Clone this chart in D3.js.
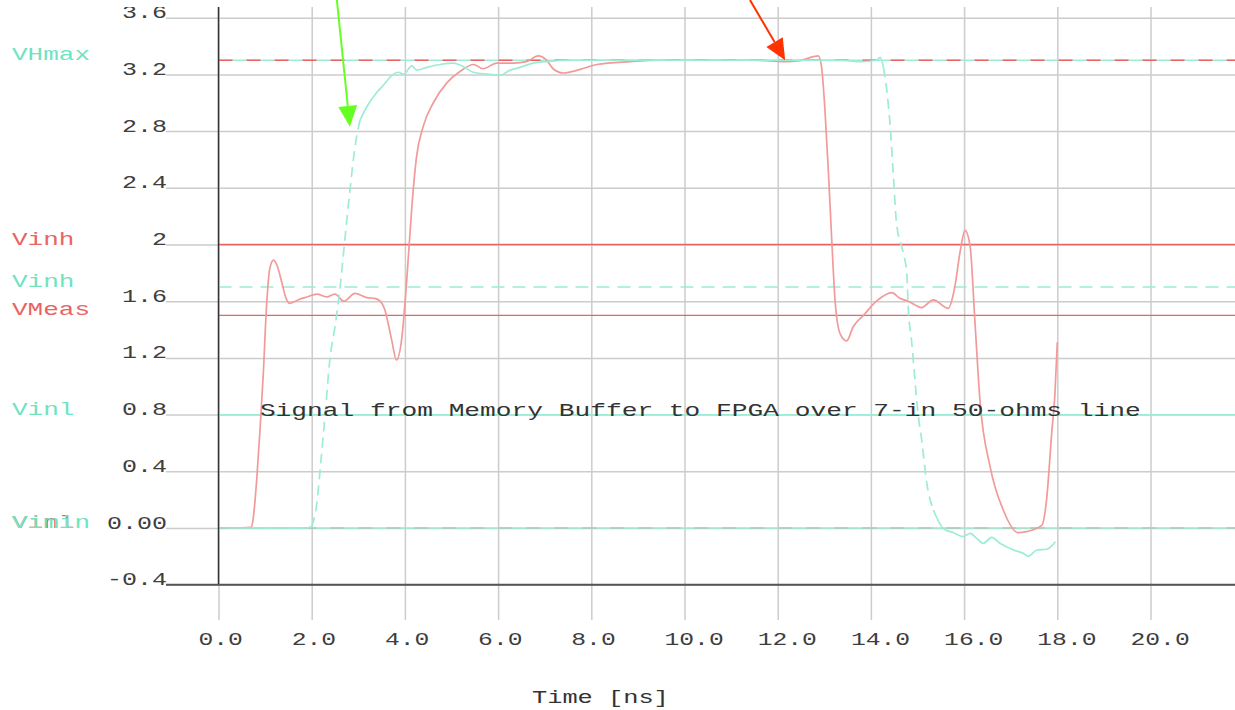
<!DOCTYPE html>
<html>
  <head>
    <meta charset="utf-8">
    <title>Signal from Memory Buffer to FPGA</title>
    <script src="https://cdn.jsdelivr.net/npm/d3@7"></script>
    <style>
    body { margin: 0; background: #fff; }
    text { font-family: "Liberation Mono", monospace; font-size: 19px; }
    .grid line { stroke: #cccccc; stroke-width: 1.5; }
    .grid text { fill: #3e3e3e; }
    </style>
  </head>
  <body>
    <svg width="1235" height="710"></svg>
    <script>
      // time axis [ns]
      var xTicks = [0, 2, 4, 6, 8, 10, 12, 14, 16, 18, 20];
      var xTickLabels = ["0.0", "2.0", "4.0", "6.0", "8.0", "10.0", "12.0", "14.0", "16.0", "18.0", "20.0"];
      // voltage axis [V]
      var yTicks = [3.6, 3.2, 2.8, 2.4, 2, 1.6, 1.2, 0.8, 0.4, 0, -0.4];
      var yTickLabels = ["3.6", "3.2", "2.8", "2.4", "2", "1.6", "1.2", "0.8", "0.4", "0.00", "-0.4"];

      // threshold lines
      var refNames  = ["VHmax", "", "Vinh", "Vinh", "VMeas", "Vinl", "Vinl", "Vimin"];
      var refSeries = ["cyan", "red", "red", "cyan", "red", "cyan", "red", "cyan"];
      var refValues = [3.3, 3.3, 2.0, 1.7, 1.5, 0.8, 0, 0];

      // red waveform
      var redT = [0.15, 0.7, 0.74, 0.82, 0.89, 0.96, 1.03, 1.1, 1.18, 1.27, 1.36, 1.45, 1.53, 1.65, 1.75, 1.9,
                  2.11, 2.32, 2.5, 2.69, 2.93, 3.18, 3.35, 3.47, 3.57, 3.65, 3.72, 3.82, 3.93, 4.04, 4.15, 4.25,
                  4.39, 4.61, 4.9, 5.18, 5.47, 5.68, 5.97, 6.33, 6.61, 6.86, 7.04, 7.18, 7.4, 7.76, 8.12, 8.83,
                  9.5, 10.5, 11.5, 12.15, 12.48, 12.76, 12.87, 12.94, 13.01, 13.09, 13.16, 13.23, 13.34, 13.48,
                  13.62, 13.84, 14.12, 14.45, 14.62, 14.8, 15.09, 15.34, 15.66, 15.8, 15.91, 16.02, 16.13, 16.23,
                  16.34, 16.56, 16.84, 17.16, 17.34, 17.67, 17.77, 17.88, 17.95, 18.0];
      var redV = [0, 0.005, 0.056, 0.34, 0.69, 1.08, 1.56, 1.83, 1.89, 1.84, 1.73, 1.62, 1.585, 1.6, 1.615, 1.63,
                  1.65, 1.63, 1.65, 1.6, 1.655, 1.625, 1.62, 1.6, 1.54, 1.43, 1.32, 1.185, 1.33, 1.75, 2.27, 2.62,
                  2.83, 3.0, 3.14, 3.22, 3.27, 3.24, 3.28, 3.28, 3.29, 3.33, 3.3, 3.24, 3.21, 3.235, 3.27, 3.29,
                  3.3, 3.3, 3.3, 3.29, 3.297, 3.325, 3.33, 3.255, 2.97, 2.5, 2.03, 1.61, 1.37, 1.32,
                  1.42, 1.5, 1.6, 1.66, 1.62, 1.6, 1.555, 1.61, 1.55, 1.7, 1.94, 2.1, 1.985, 1.47,
                  0.9, 0.43, 0.127, -0.033, -0.026, 0.02, 0.2, 0.67, 0.95, 1.31];

      // cyan waveform
      var cyanT = [0.15, 1.9, 2.0, 2.1, 2.2, 2.3, 2.39, 2.5, 2.61, 2.71, 2.82, 2.93, 3.04, 3.18, 3.39, 3.54,
                   3.75, 3.86, 3.97, 4.15, 4.25, 4.47, 4.75, 5.04, 5.25, 5.47, 5.83, 6.04, 6.26, 6.47, 6.75, 7.04,
                   7.6, 9, 11, 13.0, 13.48, 13.8, 14.12, 14.2, 14.27, 14.34, 14.41, 14.48, 14.55, 14.66, 14.73,
                   14.77, 14.8, 14.87, 15.02, 15.09, 15.2, 15.34, 15.55, 15.77, 15.98, 16.13, 16.27, 16.41, 16.59,
                   16.77, 17.06, 17.27, 17.38, 17.56, 17.77, 17.96];
      var cyanV = [0, 0, 0.01, 0.15, 0.48, 0.85, 1.19, 1.42, 1.7, 2.03, 2.38, 2.69, 2.88, 2.97, 3.07, 3.125,
                   3.2, 3.215, 3.2, 3.26, 3.23, 3.25, 3.27, 3.28, 3.255, 3.215, 3.2, 3.195, 3.23, 3.25, 3.28, 3.29,
                   3.3, 3.3, 3.3, 3.3, 3.297, 3.29, 3.3, 3.32, 3.25, 3.09, 2.85, 2.5, 2.15, 1.985, 1.89,
                   1.8, 1.56, 1.33, 0.785, 0.62, 0.315, 0.127, -0.002, -0.033, -0.061, -0.038, -0.073, -0.108, -0.066,
                   -0.108, -0.155, -0.179, -0.2, -0.155, -0.15, -0.097];

      // annotation arrows: [tail t, tail V, tip t, tip V]
      var arrowGreen = [2.54, 3.725, 2.82, 2.83];
      var arrowRed = [11.405, 3.725, 12.16, 3.30];

      var title = "Signal from Memory Buffer to FPGA over 7-in 50-ohms line";
      var xLabel = "Time [ns]";

      var svg = d3.select("svg");
      var W = 1235, H = 710;
      var gridLeft = 166, axisX = 218.5, plotTop = 7, plotBottom = 620;

      var x = d3.scaleLinear().domain([0, 20]).range([axisX, 1150.5]);
      var y = d3.scaleLinear().domain([-0.4, 3.6]).range([584.7, 17.7]);

      var colors = { red: "#e86464", cyan: "#6fe3c2" };
      var waveColors = { red: "#f29a9a", cyan: "#9cecd8" };

      // stretch monospace text to the wide courier-like pitch of the original
      function pitch(sel, adv) {
        sel.each(function() {
          var n = this.textContent.length;
          d3.select(this)
              .attr("textLength", n * adv)
              .attr("lengthAdjust", "spacingAndGlyphs");
        });
      }

      svg.append("clipPath").attr("id", "clip")
        .append("rect").attr("x", 0).attr("y", plotTop).attr("width", W).attr("height", H - plotTop);

      var chart = svg.append("g").attr("clip-path", "url(#clip)");

      // vertical grid + time labels
      var gx = chart.append("g")
          .attr("class", "grid")
          .attr("transform", "translate(0," + plotBottom + ")")
          .call(d3.axisBottom(x)
            .tickValues(xTicks)
            .tickFormat(function(d, i) { return xTickLabels[i]; })
            .tickSizeInner(-(plotBottom - plotTop))
            .tickSizeOuter(0));
      gx.select(".domain").remove();
      gx.selectAll("text")
          .attr("y", 25).attr("dy", 0)
          .attr("x", -20.5)
          .attr("text-anchor", "start")
          .call(pitch, 14.8);

      // horizontal grid + voltage labels
      var yAdv = 15;
      var gy = chart.append("g")
          .attr("class", "grid")
          .attr("transform", "translate(" + gridLeft + ",0)")
          .call(d3.axisLeft(y)
            .tickValues(yTicks)
            .tickFormat(function(d, i) { return yTickLabels[i]; })
            .tickSizeInner(-(W - gridLeft))
            .tickSizeOuter(0));
      gy.select(".domain").remove();
      gy.selectAll("text")
          .attr("dy", 0)
          .attr("text-anchor", "start")
          .attr("x", function() { return -this.textContent.length * yAdv + 1; })
          .call(pitch, yAdv);

      // threshold lines
      var refs = refValues.map(function(v, i) {
        return { v: v, name: refNames[i], series: refSeries[i] };
      });
      function refDash(d) {
        if (d.series === "red" && (d.v === 3.3 || d.v === 0)) return "14,14";
        if (d.series === "cyan" && d.v === 1.7) return "13,8";
        return null;
      }
      chart.append("g").selectAll("line")
        .data(refs)
        .enter().append("line")
          .attr("x1", axisX).attr("x2", W)
          .attr("y1", function(d) { return y(d.v); })
          .attr("y2", function(d) { return y(d.v); })
          .attr("stroke", function(d) { return d.series === "cyan" ? waveColors.cyan : colors.red; })
          .attr("stroke-width", function(d) { return d.series === "cyan" && d.v === 0.8 ? 1.1 : 1.4; })
          .attr("stroke-dasharray", refDash);

      chart.append("g").selectAll("text")
        .data(refs.filter(function(d) { return d.name; }))
        .enter().append("text")
          .attr("x", 12)
          .attr("y", function(d) { return y(d.v); })
          .attr("fill", function(d) { return colors[d.series]; })
          .text(function(d) { return d.name; })
          .call(pitch, 15.6);

      // waveforms
      var line = d3.line()
          .x(function(d) { return x(d[0]); })
          .y(function(d) { return y(d[1]); })
          .curve(d3.curveMonotoneX);

      var redPts = redT.map(function(t, i) { return [t, redV[i]]; });
      chart.append("path")
          .attr("d", line(redPts))
          .attr("fill", "none")
          .attr("stroke", waveColors.red)
          .attr("stroke-width", 1.7);

      // cyan: steep edges dashed, flat parts solid
      var cyanPts = cyanT.map(function(t, i) { return [t, cyanV[i]]; });
      var runs = [], cur = null;
      for (var i = 1; i < cyanPts.length; i++) {
        var dx = x(cyanPts[i][0]) - x(cyanPts[i - 1][0]);
        var dy = Math.abs(y(cyanPts[i][1]) - y(cyanPts[i - 1][1]));
        var steep = dy > 4 * dx;
        if (!cur || cur.steep !== steep) {
          cur = { steep: steep, pts: [cyanPts[i - 1]] };
          runs.push(cur);
        }
        cur.pts.push(cyanPts[i]);
      }
      chart.append("g").selectAll("path")
        .data(runs)
        .enter().append("path")
          .attr("d", function(d) { return line(d.pts); })
          .attr("fill", "none")
          .attr("stroke", waveColors.cyan)
          .attr("stroke-width", 1.7)
          .attr("stroke-dasharray", function(d) { return d.steep ? "10,6" : null; });

      // axes lines
      chart.append("line")
          .attr("x1", axisX).attr("x2", axisX)
          .attr("y1", plotTop).attr("y2", y(-0.4))
          .attr("stroke", "#333").attr("stroke-width", 1.5);
      chart.append("line")
          .attr("x1", gridLeft).attr("x2", W)
          .attr("y1", y(-0.4)).attr("y2", y(-0.4))
          .attr("stroke", "#555").attr("stroke-width", 2);

      // title & axis label
      chart.append("text")
          .attr("x", x(0.91) - 1).attr("y", y(0.8) + 1)
          .attr("fill", "#333")
          .text(title)
          .call(pitch, 15.73);
      chart.append("text")
          .attr("x", 532).attr("y", 703)
          .attr("fill", "#333")
          .text(xLabel)
          .call(pitch, 15.2);

      // arrows
      function arrow(a, color) {
        var x1 = x(a[0]), y1 = y(a[1]), x2 = x(a[2]), y2 = y(a[3]);
        var ang = Math.atan2(y2 - y1, x2 - x1);
        var len = 21, half = 9.5;
        var bx = x2 - len * Math.cos(ang), by = y2 - len * Math.sin(ang);
        var px = -Math.sin(ang) * half, py = Math.cos(ang) * half;
        svg.append("line")
            .attr("x1", x1).attr("y1", y1).attr("x2", bx).attr("y2", by)
            .attr("stroke", color).attr("stroke-width", 2);
        svg.append("path")
            .attr("d", "M" + x2 + "," + y2 + "L" + (bx + px) + "," + (by + py) + "L" + (bx - px) + "," + (by - py) + "Z")
            .attr("fill", color);
      }
      arrow(arrowGreen, "#66ff22");
      arrow(arrowRed, "#ff3300");
    </script>
  </body>
</html>
